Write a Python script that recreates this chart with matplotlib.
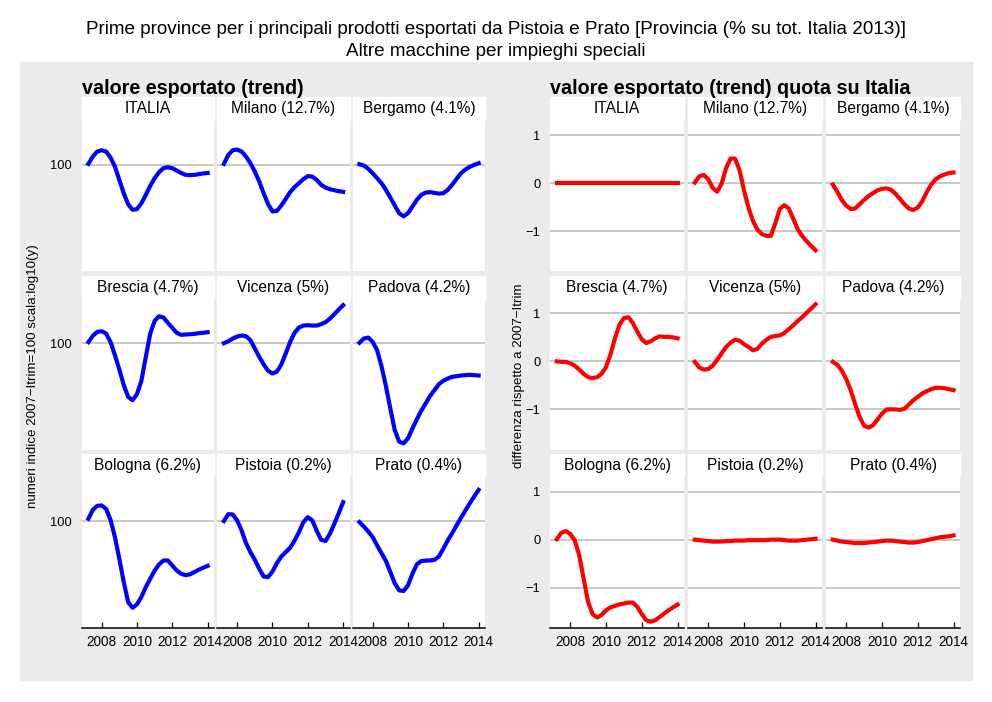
import numpy as np
import matplotlib
matplotlib.use("Agg")
import matplotlib.pyplot as plt
from matplotlib.patches import Rectangle
from matplotlib.ticker import FixedLocator, NullLocator

plt.rcParams["font.family"] = ["Liberation Sans", "DejaVu Sans"]

# quarterly time axis
years = np.arange(2007.25, 2014.01, 0.25)

provinces = ["ITALIA", "Milano (12.7%)", "Bergamo (4.1%)",
             "Brescia (4.7%)", "Vicenza (5%)", "Padova (4.2%)",
             "Bologna (6.2%)", "Pistoia (0.2%)", "Prato (0.4%)"]

# valore esportato (trend), indice 2007-Itrim = 100
italia_v = [100.8, 106.6, 110.8, 111.9, 110.8, 105.8, 98.7, 89.1, 80.4, 73.9, 70.8, 71.2, 74.5, 79.4,
            85.1, 90.3, 94.5, 97.5, 98.2, 97.5, 95.7, 94.0, 92.6, 92.4, 92.6, 93.1, 93.6, 94.0]
milano_v = [100.8, 108.0, 111.9, 112.5, 110.8, 106.6, 101.3, 95.0, 88.0, 80.4, 74.0, 69.9, 70.2, 73.2,
            77.0, 81.1, 84.3, 86.9, 89.6, 91.7, 91.4, 89.1, 85.8, 84.0, 82.9, 82.3, 81.7, 81.3]
bergamo_v = [100.5, 99.5, 97.0, 93.8, 90.3, 86.9, 82.5, 77.8, 73.2, 69.0, 67.3, 69.0, 72.6, 76.4,
             79.4, 80.8, 81.1, 80.6, 80.2, 80.4, 82.5, 85.8, 89.8, 93.8, 96.5, 98.5, 100.0, 101.3]
brescia_v = [100.8, 105.8, 109.1, 109.6, 107.7, 101.0, 91.2, 81.7, 72.5, 66.2, 64.5, 67.6, 74.9, 90.0,
             107.7, 118.7, 123.0, 121.8, 116.9, 112.5, 108.3, 106.6, 106.9, 107.1, 107.4, 108.0, 108.3, 108.8]
vicenza_v = [100.0, 101.5, 103.6, 105.2, 106.1, 105.5, 102.3, 96.0, 90.0, 84.9, 80.9, 79.2, 80.4, 84.9,
             92.4, 101.0, 108.3, 112.8, 114.5, 114.8, 114.5, 114.5, 115.7, 117.5, 120.8, 124.9, 129.5, 133.9]
padova_v = [100.3, 103.6, 104.4, 101.0, 94.8, 83.8, 71.9, 60.5, 51.3, 46.9, 46.3, 48.1, 51.9, 55.7,
            59.5, 62.9, 66.6, 69.7, 73.0, 74.9, 76.2, 77.2, 77.6, 78.0, 78.2, 78.4, 78.2, 78.0]
bologna_v = [102.1, 109.4, 112.8, 113.1, 110.2, 101.3, 88.7, 75.1, 62.8, 53.8, 51.5, 52.9, 56.0, 60.4,
             64.4, 68.6, 71.9, 74.1, 74.1, 71.3, 68.6, 66.9, 66.2, 66.6, 67.8, 69.0, 70.1, 71.1]
pistoia_v = [100.3, 105.8, 105.5, 100.8, 93.3, 84.7, 79.0, 74.5, 69.5, 65.5, 65.2, 68.1, 72.6, 76.4,
             79.0, 81.7, 86.4, 92.1, 99.5, 103.4, 100.8, 93.3, 86.9, 86.0, 91.0, 98.2, 106.6, 116.0]
prato_v = [99.5, 96.2, 92.6, 88.7, 83.2, 78.4, 73.8, 67.8, 62.2, 58.9, 58.6, 61.2, 66.9, 71.9,
           73.8, 74.0, 74.1, 74.5, 76.4, 81.1, 86.4, 91.4, 97.0, 102.9, 108.8, 115.1, 121.2, 127.5]

# quota su Italia, differenza rispetto a 2007-Itrim
italia_q = [0.0, 0.0, 0.0, 0.0, 0.0, 0.0, 0.0, 0.0, 0.0, 0.0, 0.0, 0.0, 0.0, 0.0,
            0.0, 0.0, 0.0, 0.0, 0.0, 0.0, 0.0, 0.0, 0.0, 0.0, 0.0, 0.0, 0.0, 0.0]
milano_q = [0.01, 0.14, 0.17, 0.08, -0.10, -0.18, -0.01, 0.31, 0.51, 0.51, 0.27, -0.15, -0.51, -0.79,
            -0.97, -1.06, -1.10, -1.10, -0.84, -0.54, -0.46, -0.53, -0.74, -0.96, -1.10, -1.21, -1.31, -1.40]
bergamo_q = [-0.03, -0.18, -0.35, -0.47, -0.54, -0.53, -0.44, -0.35, -0.27, -0.21, -0.15, -0.12, -0.11, -0.14,
             -0.22, -0.33, -0.44, -0.53, -0.56, -0.51, -0.38, -0.19, -0.03, 0.08, 0.14, 0.18, 0.21, 0.22]
brescia_q = [0.0, -0.01, -0.01, -0.04, -0.09, -0.17, -0.26, -0.33, -0.35, -0.33, -0.26, -0.12, 0.14, 0.48,
             0.76, 0.90, 0.92, 0.80, 0.62, 0.46, 0.38, 0.42, 0.48, 0.52, 0.51, 0.51, 0.50, 0.48]
vicenza_q = [-0.01, -0.13, -0.17, -0.16, -0.09, 0.03, 0.17, 0.30, 0.39, 0.45, 0.43, 0.36, 0.30, 0.23,
             0.26, 0.37, 0.45, 0.51, 0.53, 0.54, 0.59, 0.67, 0.75, 0.84, 0.92, 1.01, 1.10, 1.19]
padova_q = [-0.01, -0.07, -0.19, -0.37, -0.60, -0.89, -1.16, -1.34, -1.38, -1.33, -1.21, -1.09, -1.00, -1.00,
            -1.00, -1.01, -0.99, -0.90, -0.81, -0.74, -0.67, -0.62, -0.58, -0.55, -0.55, -0.56, -0.58, -0.60]
bologna_q = [0.01, 0.14, 0.18, 0.12, -0.01, -0.32, -0.81, -1.30, -1.55, -1.62, -1.57, -1.47, -1.41, -1.38,
             -1.35, -1.33, -1.31, -1.31, -1.40, -1.55, -1.68, -1.71, -1.68, -1.61, -1.54, -1.47, -1.41, -1.35]
pistoia_q = [0.0, -0.01, -0.02, -0.03, -0.04, -0.04, -0.04, -0.03, -0.03, -0.02, -0.02, -0.02, -0.01, -0.01,
             -0.01, -0.01, -0.01, 0.0, 0.0, 0.0, -0.01, -0.02, -0.02, -0.02, -0.01, 0.0, 0.01, 0.02]
prato_q = [0.0, -0.02, -0.04, -0.05, -0.06, -0.07, -0.07, -0.07, -0.06, -0.05, -0.04, -0.03, -0.02, -0.02,
           -0.03, -0.04, -0.05, -0.06, -0.06, -0.05, -0.03, -0.01, 0.01, 0.03, 0.05, 0.06, 0.07, 0.09]

values = [italia_v, milano_v, bergamo_v, brescia_v, vicenza_v, padova_v, bologna_v, pistoia_v, prato_v]
quotas = [italia_q, milano_q, bergamo_q, brescia_q, vicenza_q, padova_q, bologna_q, pistoia_q, prato_q]

W, H = 992, 702
fig = plt.figure(figsize=(W / 100, H / 100), dpi=100)


def frac(left, top, width, height):
    return [left / W, 1 - (top + height) / H, width / W, height / H]


# grey background behind the two grids
fig.patches.append(Rectangle((20 / W, 1 - 680 / H), 952 / W, 618 / H,
                             transform=fig.transFigure, color="#EBEBEB", zorder=-5))

fig.text(496 / W, 1 - 30 / H,
         "Prime province per i principali prodotti esportati da Pistoia e Prato "
         "[Provincia (% su tot. Italia 2013)]", ha="center", va="center", fontsize=13.6)
fig.text(496 / W, 1 - 52 / H, "Altre macchine per impieghi speciali",
         ha="center", va="center", fontsize=13.6)

row_tops = [119.7, 298.0, 476.3]
plot_h = 151.7
strip_h = 22.5
xlim = (2006.87, 2014.36)


def draw_grid(col_lefts, col_w, series, log, color, title, ylabel, ylabel_x):
    fig.text(col_lefts[0] / W, 1 - 88 / H, title, ha="left", va="center",
             fontsize=14.2, fontweight="bold")
    fig.text(ylabel_x / W, 1 - 376 / H, ylabel, rotation=90, ha="center", va="center",
             fontsize=9.6)
    for i, (name, ys) in enumerate(zip(provinces, series)):
        r, c = divmod(i, 3)
        left, top = col_lefts[c], row_tops[r]
        fig.patches.append(Rectangle((left / W, 1 - top / H), col_w / W, strip_h / H,
                                     transform=fig.transFigure, color="white", zorder=1))
        fig.text((left + col_w / 2) / W, 1 - (top - strip_h / 2 + 0.5) / H, name,
                 ha="center", va="center", fontsize=11.2, zorder=2)
        ax = fig.add_axes(frac(left, top, col_w, plot_h))
        ax.set_facecolor("white")
        for s in ax.spines.values():
            s.set_visible(False)
        if log:
            ax.set_yscale("log")
            ax.set_ylim(44.1, 141.5)
            yt = [100]
        else:
            ax.set_ylim(-1.84, 1.32)
            yt = [-1, 0, 1]
        ax.yaxis.set_major_locator(FixedLocator(yt))
        ax.yaxis.set_minor_locator(NullLocator())
        for v in yt:
            ax.axhline(v, color="#C4C4C4", lw=1.3, zorder=1)
        ax.plot(years, ys, color=color, lw=3.0, solid_joinstyle="round", zorder=3)
        ax.set_xlim(*xlim)
        ax.set_xticks([2008, 2010, 2012, 2014])
        ax.tick_params(axis="y", length=0, pad=7, labelsize=9.3)
        if c == 0:
            ax.set_yticklabels([str(v).replace("-", "\u2212") for v in yt])
        else:
            ax.set_yticklabels([])
        if r == 2:
            ax.spines["bottom"].set_visible(True)
            ax.spines["bottom"].set_linewidth(1.1)
            ax.tick_params(axis="x", direction="in", length=4.5, width=0.9,
                           labelsize=9.8, pad=5)
        else:
            ax.tick_params(axis="x", length=0, labelbottom=False)


draw_grid([81.7, 217.2, 352.7], 132.3, values, True, "#0000FF",
          "valore esportato (trend)",
          "numeri indice 2007\u2212Itrim=100 scala:log10(y)", 33)
draw_grid([550, 688, 826], 134, quotas, False, "#FF0000",
          "valore esportato (trend) quota su Italia",
          "differenza rispetto a 2007\u2212Itrim", 519)

fig.savefig("out.png", dpi=100, facecolor="white")
